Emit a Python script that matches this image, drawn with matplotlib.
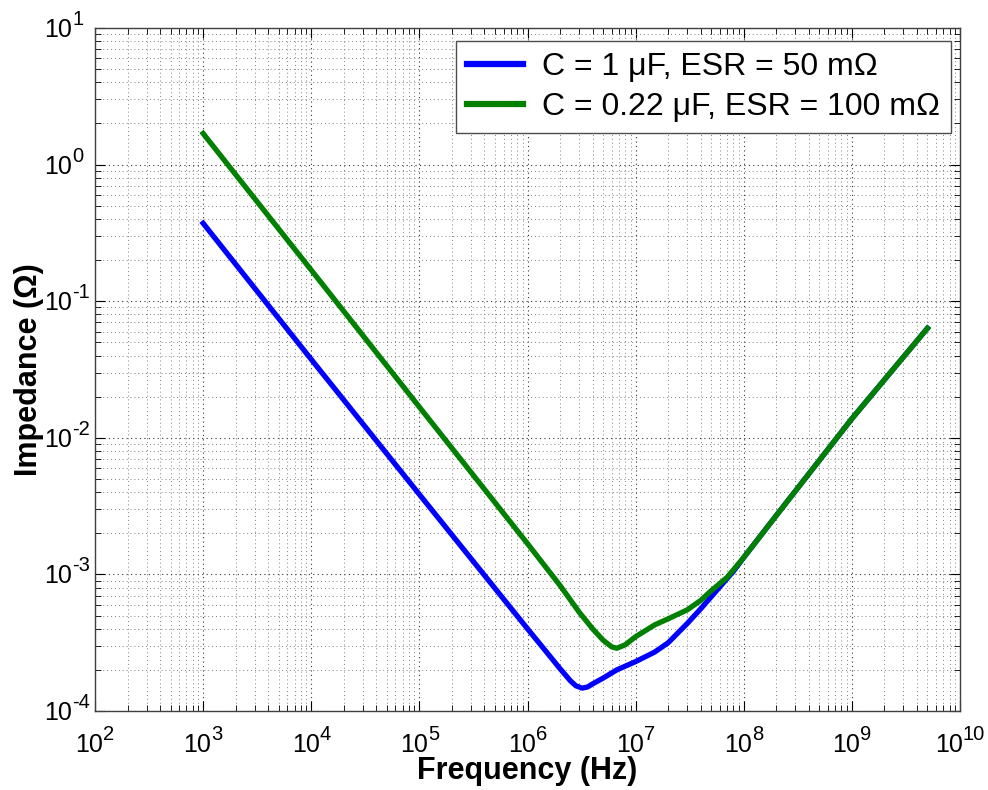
import numpy as np
import matplotlib
matplotlib.use('Agg')
import matplotlib.pyplot as plt
import matplotlib.transforms as mtrans
from matplotlib.ticker import LogLocator, NullFormatter

plt.rcParams['font.family'] = ['Liberation Sans', 'DejaVu Sans']
plt.rcParams['axes.unicode_minus'] = False

# values (Hz, Ohm)
freq_1uF = [1e3, 1e4, 1e5, 1e6, 1.5e6, 2e6, 2.5e6, 2.8e6, 3.2e6, 3.6e6, 4e6,
            5e6, 6.7e6, 1e7, 1.5e7, 2e7, 3e7, 4e7, 6e7, 8e7, 1e8, 2e8, 1e9, 5e9]
z_1uF = [0.372, 0.0375, 3.85e-3, 4.0e-4, 2.7e-4, 2.04e-4, 1.66e-4, 1.53e-4,
         1.47e-4, 1.50e-4, 1.58e-4, 1.74e-4, 2.0e-4, 2.3e-4, 2.7e-4, 3.16e-4,
         4.37e-4, 5.6e-4, 8.1e-4, 1.05e-3, 1.33e-3, 2.7e-3, 0.0138, 0.0634]

freq_022uF = [1e3, 1e4, 1e5, 1e6, 2e6, 3e6, 4e6, 5e6, 6e6, 6.7e6, 8e6, 1e7,
              1.5e7, 2e7, 3e7, 4e7, 5e7, 7e7, 1e8, 2e8, 1e9, 5e9]
z_022uF = [1.69, 0.169, 0.0168, 1.68e-3, 8.3e-4, 5.3e-4, 4.0e-4, 3.3e-4,
           2.95e-4, 2.88e-4, 3.05e-4, 3.5e-4, 4.27e-4, 4.73e-4, 5.5e-4,
           6.45e-4, 7.6e-4, 9.5e-4, 1.33e-3, 2.7e-3, 0.0138, 0.0634]

x_decades = [2, 3, 4, 5, 6, 7, 8, 9, 10]
y_decades = [-4, -3, -2, -1, 0, 1]

labels = [u'C = 1 \u03bcF, ESR = 50 m\u03a9',
          u'C = 0.22 \u03bcF, ESR = 100 m\u03a9']

BASE_FS = 18
EXP_FS = 14.5

fig = plt.figure(figsize=(9.88, 7.90), dpi=100)
ax = fig.add_axes([95 / 988, 79 / 790, 865 / 988, 683 / 790])

ax.loglog(freq_1uF, z_1uF, color=(0, 0, 1), lw=3.8, label=labels[0],
          solid_joinstyle='round')
ax.loglog(freq_022uF, z_022uF, color=(0, 0.5, 0), lw=3.8, label=labels[1],
          solid_joinstyle='round')

ax.set_xlim(10.0 ** x_decades[0], 10.0 ** x_decades[-1])
ax.set_ylim(10.0 ** y_decades[0], 10.0 ** y_decades[-1])

# matlab-ish ticks and grid
ax.xaxis.set_major_locator(LogLocator(base=10, numticks=20))
ax.yaxis.set_major_locator(LogLocator(base=10, numticks=20))
ax.xaxis.set_minor_locator(LogLocator(base=10, subs=np.arange(2, 10), numticks=100))
ax.yaxis.set_minor_locator(LogLocator(base=10, subs=np.arange(2, 10), numticks=100))
for a in (ax.xaxis, ax.yaxis):
    a.set_major_formatter(NullFormatter())
    a.set_minor_formatter(NullFormatter())
ax.tick_params(which='both', direction='in', top=True, right=True)
ax.tick_params(which='major', length=7, width=0.8)
ax.tick_params(which='minor', length=4, width=0.6)
ax.grid(which='major', color='0.2', linestyle=(0, (1, 3)), lw=0.8)
ax.grid(which='minor', color='0.5', linestyle=(0, (1, 3)), lw=0.7)
for s in ax.spines.values():
    s.set_color('0.25')
    s.set_linewidth(1.0)

# tick labels written out as "10" + a big raised exponent, like matlab does
renderer = fig.canvas.get_renderer()


def text_width(s, size):
    t = fig.text(0, 0, s, fontsize=size)
    w = t.get_window_extent(renderer).width
    t.remove()
    return w


w10 = text_width('10', BASE_FS)
xtrans = ax.get_xaxis_transform()
for d in x_decades:
    we = text_width(str(d), EXP_FS)
    left = -(w10 + we) / 2
    ax.text(10.0 ** d, 0, '10', fontsize=BASE_FS, ha='left', va='baseline',
            transform=mtrans.offset_copy(xtrans, fig=fig, x=left, y=-41, units='dots'))
    ax.text(10.0 ** d, 0, str(d), fontsize=EXP_FS, ha='left', va='baseline',
            transform=mtrans.offset_copy(xtrans, fig=fig, x=left + w10, y=-29, units='dots'))

ytrans = ax.get_yaxis_transform()
for d in y_decades:
    ax.text(0, 10.0 ** d, '10', fontsize=BASE_FS, ha='right', va='baseline',
            transform=mtrans.offset_copy(ytrans, fig=fig, x=-23, y=-9, units='dots'))
    ax.text(0, 10.0 ** d, str(d), fontsize=EXP_FS, ha='left', va='baseline',
            transform=mtrans.offset_copy(ytrans, fig=fig, x=-23, y=3, units='dots'))

ax.set_xlabel('Frequency (Hz)', fontsize=22, fontweight='bold')
ax.set_ylabel(u'Impedance (\u03a9)', fontsize=22, fontweight='bold')
ax.xaxis.label.set_verticalalignment('baseline')
ax.yaxis.label.set_verticalalignment('baseline')
ax.xaxis.set_label_coords(0.5, -0.0995)
ax.yaxis.set_label_coords(-0.067, 0.5)

leg = ax.legend(loc='upper right', bbox_to_anchor=(0.9896, 0.981), fontsize=23,
                fancybox=False, framealpha=1, edgecolor='0.3', handlelength=1.75,
                handletextpad=0.58, borderpad=0.35, labelspacing=0.3,
                borderaxespad=0)
leg.get_frame().set_linewidth(1.0)
for line in leg.get_lines():
    line.set_linewidth(4.5)

fig.savefig('out.png', dpi=100)
